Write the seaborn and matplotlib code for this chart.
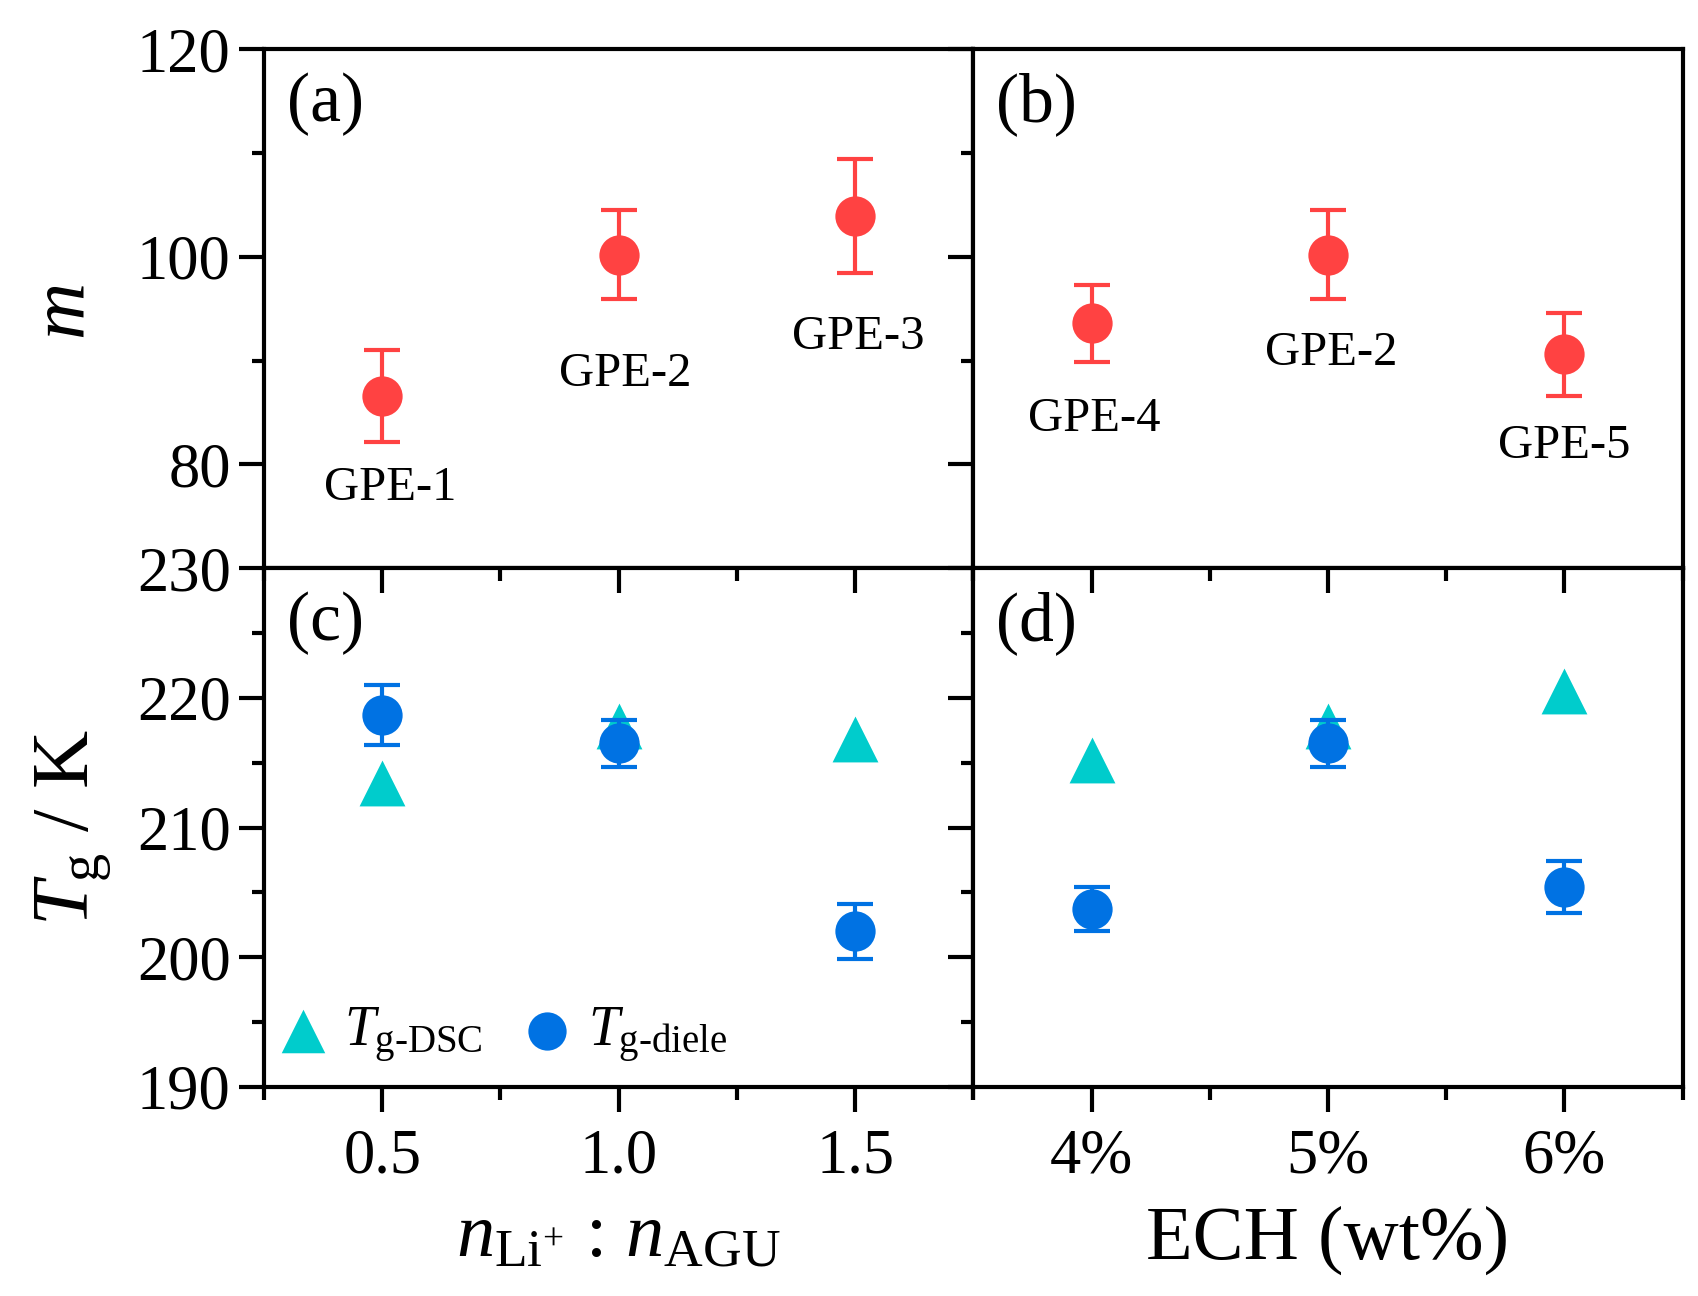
import matplotlib
matplotlib.use("Agg")
import matplotlib.pyplot as plt
import seaborn as sns
import numpy as np
import pandas as pd
from matplotlib.ticker import MultipleLocator, FixedLocator

# data
ratio = [0.5, 1.0, 1.5]
ech = [4, 5, 6]
ech_labels = ["4%", "5%", "6%"]

m_ratio = [86.6, 100.2, 103.9]
m_ratio_err = [4.4, 4.3, 5.5]
names_ratio = ["GPE-1", "GPE-2", "GPE-3"]

m_ech = [93.6, 100.2, 90.6]
m_ech_err = [3.7, 4.3, 4.0]
names_ech = ["GPE-4", "GPE-2", "GPE-5"]

tg_dsc_ratio = [213.4, 217.8, 216.8]
tg_diele_ratio = [218.7, 216.5, 202.0]
tg_diele_ratio_err = [2.3, 1.8, 2.1]

tg_dsc_ech = [215.2, 217.8, 220.5]
tg_diele_ech = [203.7, 216.5, 205.4]
tg_diele_ech_err = [1.7, 1.8, 2.0]

# label offsets (points) below each marker
offs_ratio = [(6, -66), (5, -86), (2, -87)]
offs_ech = [(2, -69), (2, -71), (0, -66)]

red = "#ff4242"
cyan = "#00cccc"
blue = "#0072e3"

sns.set_theme(style="ticks")
plt.rcParams["font.family"] = ["Liberation Serif", "DejaVu Serif"]
plt.rcParams["mathtext.fontset"] = "custom"
plt.rcParams["mathtext.rm"] = "Liberation Serif"
plt.rcParams["mathtext.it"] = "Liberation Serif:italic"
plt.rcParams["mathtext.bf"] = "Liberation Serif:bold"
for k in ["text.color", "axes.labelcolor", "xtick.color", "ytick.color", "axes.edgecolor"]:
    plt.rcParams[k] = "black"
plt.rcParams["axes.linewidth"] = 3

fig, axes = plt.subplots(2, 2, figsize=(16.98, 12.96), dpi=100)
fig.subplots_adjust(left=0.1555, right=0.991, top=0.962, bottom=0.1613,
                    hspace=0, wspace=0)
ax_a, ax_b = axes[0]
ax_c, ax_d = axes[1]

TICK = 45
ms_circ = 29 ** 2
ms_tri = 33 ** 2

# top row: fragility index m
for ax, x, y, e, names, offs in [(ax_a, ratio, m_ratio, m_ratio_err, names_ratio, offs_ratio),
                                 (ax_b, ech, m_ech, m_ech_err, names_ech, offs_ech)]:
    ax.errorbar(x, y, yerr=e, fmt="none", ecolor=red, elinewidth=3,
                capsize=13, capthick=3, zorder=2)
    sns.scatterplot(x=x, y=y, ax=ax, color=red, s=ms_circ, marker="o",
                    linewidth=0, zorder=3)
    for xi, yi, nm, off in zip(x, y, names, offs):
        ax.annotate(nm, (xi, yi), xytext=off, textcoords="offset points",
                    ha="center", va="center", fontsize=35)
    ax.set_ylim(70, 120)
    ax.yaxis.set_major_locator(FixedLocator([80, 100, 120]))
    ax.yaxis.set_minor_locator(FixedLocator([90, 110]))

# bottom row: Tg
for ax, x, dsc, die, e in [(ax_c, ratio, tg_dsc_ratio, tg_diele_ratio, tg_diele_ratio_err),
                           (ax_d, ech, tg_dsc_ech, tg_diele_ech, tg_diele_ech_err)]:
    sns.scatterplot(x=x, y=dsc, ax=ax, color=cyan, s=ms_tri, marker="^",
                    linewidth=0, zorder=2, label=r"$T_{\mathrm{g\text{-}DSC}}$")
    ax.errorbar(x, die, yerr=e, fmt="none", ecolor=blue, elinewidth=3,
                capsize=13, capthick=3, zorder=3)
    sns.scatterplot(x=x, y=die, ax=ax, color=blue, s=ms_circ, marker="o",
                    linewidth=0, zorder=4, label=r"$T_{\mathrm{g\text{-}diele}}$")
    ax.set_ylim(190, 230)
    ax.yaxis.set_major_locator(MultipleLocator(10))
    ax.yaxis.set_minor_locator(MultipleLocator(5))

for ax in (ax_a, ax_c):
    ax.set_xlim(0.25, 1.75)
    ax.xaxis.set_major_locator(FixedLocator([0.5, 1.0, 1.5]))
    ax.xaxis.set_minor_locator(FixedLocator([0.25, 0.75, 1.25, 1.75]))
for ax in (ax_b, ax_d):
    ax.set_xlim(3.5, 6.5)
    ax.xaxis.set_major_locator(FixedLocator(ech))
    ax.xaxis.set_minor_locator(FixedLocator([3.5, 4.5, 5.5, 6.5]))

for ax in axes.flat:
    for sp in ax.spines.values():
        sp.set_visible(True)
        sp.set_linewidth(3)
    ax.tick_params(axis="y", which="major", direction="out", length=18, width=3,
                   labelsize=TICK, pad=6, right=False)
    ax.tick_params(axis="y", which="minor", direction="out", length=9, width=3,
                   right=False)
    ax.set_xlabel("")
    ax.set_ylabel("")

for ax in (ax_a, ax_b):
    ax.tick_params(axis="x", which="both", bottom=False, top=False,
                   labelbottom=False)
for ax in (ax_c, ax_d):
    ax.tick_params(axis="x", which="major", direction="out", length=18, width=3,
                   labelsize=TICK, pad=12, top=True)
    ax.tick_params(axis="x", which="minor", direction="out", length=9, width=3,
                   top=True)
    # top ticks of lower panels point into the panel
    for t in ax.xaxis.get_major_ticks() + ax.xaxis.get_minor_ticks():
        t.tick2line.set_marker(3)
ax_d.set_xticklabels(ech_labels)
ax_c.set_xticklabels(["0.5", "1.0", "1.5"])

for ax in (ax_b, ax_d):
    ax.tick_params(axis="y", which="both", labelleft=False)

for ax, lab in zip(axes.flat, ["(a)", "(b)", "(c)", "(d)"]):
    ax.text(0.032, 0.955, lab, transform=ax.transAxes, ha="left", va="top",
            fontsize=50)

ax_a.set_ylabel("m", fontsize=57, fontstyle="italic")
ax_c.set_ylabel(r"$T_{\mathrm{g}}$ / K", fontsize=58)
ax_a.yaxis.set_label_coords(-0.233, 0.5)
ax_c.yaxis.set_label_coords(-0.212, 0.5)

ax_c.set_xlabel(r"$n_{\mathrm{Li}^{+}}$ : $n_{\mathrm{AGU}}$", fontsize=55, labelpad=12)
ax_d.set_xlabel("ECH (wt%)", fontsize=55, labelpad=14)

if ax_d.get_legend():
    ax_d.get_legend().remove()
ax_c.legend(loc="lower left", bbox_to_anchor=(-0.02, 0.0), ncol=2, frameon=False,
            fontsize=40, markerscale=0.95, handletextpad=0.2, columnspacing=0.6,
            borderaxespad=0.0, handlelength=1.1)

fig.savefig("out.png", dpi=100)
